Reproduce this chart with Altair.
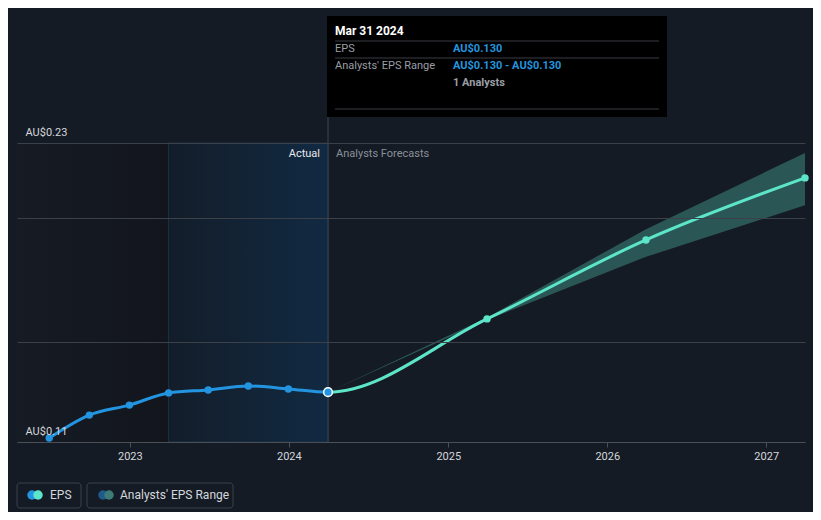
import altair as alt
import pandas as pd

# ---- data ----
actual_dates = ["2022-06-30", "2022-09-30", "2022-12-31", "2023-03-31",
                "2023-06-30", "2023-09-30", "2023-12-31", "2024-03-31"]
actual_eps = [0.1116, 0.1208, 0.1248, 0.1297, 0.1309, 0.1325, 0.1313, 0.1300]

forecast_dates = ["2025-03-31", "2026-03-31", "2027-03-31"]
forecast_eps = [0.1594, 0.1911, 0.2160]

range_dates = ["2024-03-31", "2025-03-31", "2026-03-31", "2027-03-31"]
range_low = [0.1300, 0.1590, 0.1843, 0.2050]
range_high = [0.1300, 0.1600, 0.1954, 0.2260]

year_ticks = [2023, 2024, 2025, 2026, 2027]
y_ticks = [0.11, 0.15, 0.20, 0.23]
y_labels = [0.11, 0.23]

past_year_start = "2023-03-31"
now_date = "2024-03-31"

BG = "#151b24"
BLUE = "#2394df"
TURQ = "#5ce5c8"
GRID = "#3b4049"
FONT = "Roboto"

W, H = 788, 299

line_df = pd.DataFrame({
    "date": pd.to_datetime(actual_dates + forecast_dates),
    "eps": actual_eps + forecast_eps,
})
act_df = pd.DataFrame({"date": pd.to_datetime(actual_dates[:-1]), "eps": actual_eps[:-1]})
last_df = pd.DataFrame({"date": pd.to_datetime([actual_dates[-1]]), "eps": [actual_eps[-1]]})
fc_df = pd.DataFrame({"date": pd.to_datetime(forecast_dates), "eps": forecast_eps})
band_df = pd.DataFrame({"date": pd.to_datetime(range_dates), "low": range_low, "high": range_high})

t0 = line_df["date"].min().value
t1 = line_df["date"].max().value
tn = pd.Timestamp(now_date).value
frac = (tn - t0) / (t1 - t0)

x_scale = alt.Scale(domain=[alt.DateTime(year=2022, month=4, date=17),
                            alt.DateTime(year=2027, month=3, date=31)])
y_scale = alt.Scale(domain=[0.11, 0.23], nice=False, zero=False)

x_axis = alt.Axis(values=[alt.DateTime(year=y, month=1, date=1) for y in year_ticks],
                  format="%Y", title=None, grid=False, domainColor="#4a4f58",
                  tickColor="#4a4f58", tickSize=5, labelColor="#d4d7dc",
                  labelFontSize=11, labelFont=FONT, labelPadding=3, zindex=1)
y_axis = alt.Axis(values=y_ticks, title=None, grid=True, gridColor=GRID, domain=False,
                  ticks=False, tickSize=0, labelAlign="left", labelBaseline="bottom",
                  labelPadding=-8, labelOffset=-6, labelColor="#d4d7dc",
                  labelFontSize=11, labelFont=FONT,
                  labelExpr="(datum.value < 0.115 || datum.value > 0.225) ? 'AU$' + format(datum.value, '.2f') : ''",
                  zindex=1)

X = alt.X("date:T", scale=x_scale, axis=x_axis)

regions_df = pd.DataFrame({
    "start": pd.to_datetime(["2022-04-17", past_year_start]),
    "end": pd.to_datetime([past_year_start, now_date]),
})

dark = alt.Chart(regions_df.iloc[[0]]).mark_rect(
    color=alt.LinearGradient(gradient="linear", x1=0, x2=1, y1=0, y2=0,
                             stops=[alt.GradientStop(offset=0, color="#161b24"),
                                    alt.GradientStop(offset=1, color="#12151c")])
).encode(x=alt.X("start:T", scale=x_scale, axis=x_axis), x2="end:T",
         y=alt.value(0), y2=alt.value(H))

blue = alt.Chart(regions_df.iloc[[1]]).mark_rect(
    color=alt.LinearGradient(gradient="linear", x1=0, x2=1, y1=0, y2=0,
                             stops=[alt.GradientStop(offset=0, color="#131d2a"),
                                    alt.GradientStop(offset=1, color="#112a42")]),
    stroke="#1a3045", strokeWidth=1
).encode(x=alt.X("start:T", scale=x_scale, axis=x_axis), x2="end:T",
         y=alt.value(0), y2=alt.value(H))

band = alt.Chart(band_df).mark_area(color=TURQ, opacity=0.3).encode(
    x=X, y=alt.Y("low:Q", scale=y_scale, axis=y_axis), y2="high:Q")

now_df = pd.DataFrame({"date": pd.to_datetime([now_date])})
rule = alt.Chart(now_df).mark_rule(color="#3a4654", strokeWidth=1).encode(
    x=X, y=alt.value(-127), y2=alt.value(H))

line = alt.Chart(line_df).mark_line(
    interpolate="monotone", strokeWidth=3,
    stroke=alt.LinearGradient(gradient="linear", x1=0, x2=1, y1=0, y2=0,
                              stops=[alt.GradientStop(offset=0, color=BLUE),
                                     alt.GradientStop(offset=frac, color=BLUE),
                                     alt.GradientStop(offset=frac, color=TURQ),
                                     alt.GradientStop(offset=1, color=TURQ)])
).encode(x=X, y=alt.Y("eps:Q", scale=y_scale, axis=y_axis))

act_pts = alt.Chart(act_df).mark_circle(color=BLUE, size=55, opacity=1).encode(
    x=X, y=alt.Y("eps:Q", scale=y_scale))
fc_pts = alt.Chart(fc_df).mark_circle(color=TURQ, size=55, opacity=1).encode(
    x=X, y=alt.Y("eps:Q", scale=y_scale))
last_pt = alt.Chart(last_df).mark_point(filled=True, fill=BLUE, stroke="#ffffff",
                                        strokeWidth=1.5, size=75, opacity=1).encode(
    x=X, y=alt.Y("eps:Q", scale=y_scale))

actual_txt = alt.Chart(now_df).mark_text(align="right", dx=-8, color="#e6e8eb",
                                         fontSize=11, font=FONT).encode(
    x=X, y=alt.value(11), text=alt.value("Actual"))
fc_txt = alt.Chart(now_df).mark_text(align="left", dx=8, color="#8a9099",
                                     fontSize=11, font=FONT).encode(
    x=X, y=alt.value(11), text=alt.value("Analysts Forecasts"))

one = pd.DataFrame({"a": [0]})

def vrect(x, x2, y, y2, **kw):
    return alt.Chart(one).mark_rect(**kw).encode(
        x=alt.value(x), x2=alt.value(x2), y=alt.value(y), y2=alt.value(y2))

def vrule(x, x2, y, color):
    return alt.Chart(one).mark_rule(color=color, strokeWidth=1).encode(
        x=alt.value(x), x2=alt.value(x2), y=alt.value(y))

def vtext(x, y, s, **kw):
    return alt.Chart(one).mark_text(align="left", baseline="middle", font=FONT, **kw).encode(
        x=alt.value(x), y=alt.value(y), text=alt.value(s))

tip = [
    vrect(310, 650, -127, -26, color="#000000"),
    vtext(318, -112, "Mar 31 2024", color="#ffffff", fontSize=12, fontWeight="bold"),
    vrule(318, 642, -102, "#3a3d42"),
    vtext(318, -94, "EPS", color="#9a9ea5", fontSize=11),
    vtext(436, -94, "AU$0.130", color=BLUE, fontSize=11, fontWeight="bold"),
    vrule(318, 642, -85, "#3a3d42"),
    vtext(318, -77, "Analysts' EPS Range", color="#9a9ea5", fontSize=11),
    vtext(436, -77, "AU$0.130 - AU$0.130", color=BLUE, fontSize=11, fontWeight="bold"),
    vtext(436, -60, "1 Analysts", color="#9a9ea5", fontSize=11, fontWeight="bold"),
    vrule(318, 642, -34, "#3a3d42"),
]

def vdot(x, y, color):
    return alt.Chart(one).mark_circle(color=color, size=90, opacity=1).encode(
        x=alt.value(x), y=alt.value(y))

legend = [
    vrect(0, 64, 340, 365, fill=BG, stroke="#3d424a", strokeWidth=1, cornerRadius=3),
    vdot(15, 352, BLUE), vdot(21, 352, TURQ),
    vtext(33, 352, "EPS", color="#d4d7dc", fontSize=12),
    vrect(70, 216, 340, 365, fill=BG, stroke="#3d424a", strokeWidth=1, cornerRadius=3),
    vdot(86, 352, "#1f5a8a"), vdot(92, 352, "#3d7a78"),
    vtext(103, 352, "Analysts' EPS Range", color="#d4d7dc", fontSize=12),
]

chart = alt.layer(
    dark, blue, band, rule, line, act_pts, fc_pts, last_pt, actual_txt, fc_txt,
    *tip, *legend
).properties(
    width=W, height=H,
    autosize=alt.AutoSizeParams(type="none"),
    padding={"left": 9, "top": 135, "right": 8, "bottom": 70},
    background=BG,
).configure_view(stroke=None)

chart.save("out.html", embed_options={"renderer": "svg", "actions": False})
